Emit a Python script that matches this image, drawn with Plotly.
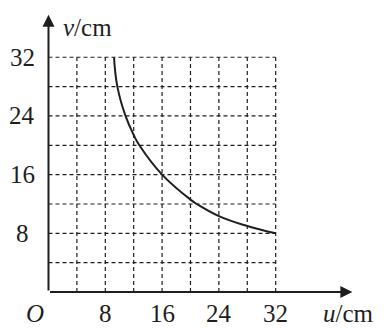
import plotly.graph_objects as go

# data
u_curve = [9.23, 9.7, 10.85, 12.0, 12.8, 16.0, 20.0, 20.9, 24.0, 28.0, 32.0]
v_curve = [32.0, 28.0, 24.0, 21.4, 20.0, 16.0, 12.6, 12.0, 10.35, 9.0, 8.0]
grid_u = [4, 8, 12, 16, 20, 24, 28, 32]
grid_v = [4, 8, 12, 16, 20, 24, 28, 32]
x_ticks = [8, 16, 24, 32]
y_ticks = [8, 16, 24, 32]

INK = "#1e1e1e"
SERIF = "Liberation Serif"
FS = 25

fig = go.Figure()
fig.add_trace(go.Scatter(x=u_curve, y=v_curve, mode="lines",
                         line=dict(color=INK, width=2, shape="spline", smoothing=1.2),
                         hoverinfo="skip", showlegend=False))

shapes = []
for gu in grid_u:
    shapes.append(dict(type="line", xref="x", yref="y", x0=gu, x1=gu, y0=0, y1=32,
                       line=dict(color=INK, width=1.2, dash="4px,3px"), layer="below"))
for gv in grid_v:
    shapes.append(dict(type="line", xref="x", yref="y", x0=0, x1=32, y0=gv, y1=gv,
                       line=dict(color=INK, width=1.2, dash="4px,3px"), layer="below"))

annotations = []
annotations.append(dict(x=42.8, y=0, ax=0, ay=0, xref="x", yref="y", axref="x", ayref="y",
                        showarrow=True, arrowhead=2, arrowsize=1.2, arrowwidth=2, arrowcolor=INK, text=""))
annotations.append(dict(x=0, y=37.8, ax=0, ay=0, xref="x", yref="y", axref="x", ayref="y",
                        showarrow=True, arrowhead=2, arrowsize=1.2, arrowwidth=2, arrowcolor=INK, text=""))
for t in x_ticks:
    annotations.append(dict(x=t, y=-2.9, xref="x", yref="y", text=str(t), showarrow=False,
                            font=dict(family=SERIF, size=FS, color=INK)))
for t in y_ticks:
    annotations.append(dict(x=-3.7, y=t, xref="x", yref="y", text=str(t), showarrow=False,
                            font=dict(family=SERIF, size=FS, color=INK)))
annotations.append(dict(x=-1.9, y=-2.9, xref="x", yref="y", text="<i>O</i>", showarrow=False,
                        font=dict(family=SERIF, size=FS, color=INK)))
annotations.append(dict(x=42.2, y=-2.9, xref="x", yref="y", text="<i>u</i>/cm", showarrow=False,
                        font=dict(family=SERIF, size=FS, color=INK)))
annotations.append(dict(x=5.5, y=36.1, xref="x", yref="y", text="<i>v</i>/cm", showarrow=False,
                        font=dict(family=SERIF, size=FS, color=INK)))

fig.update_layout(
    width=387, height=328,
    margin=dict(l=0, r=0, t=0, b=0),
    paper_bgcolor="white", plot_bgcolor="white",
    xaxis=dict(range=[-6.83, 47.68], visible=False, fixedrange=True),
    yaxis=dict(range=[-4.9, 39.8], visible=False, fixedrange=True),
    shapes=shapes, annotations=annotations, showlegend=False,
    font=dict(family=SERIF),
)

fig.write_html("out.html")
